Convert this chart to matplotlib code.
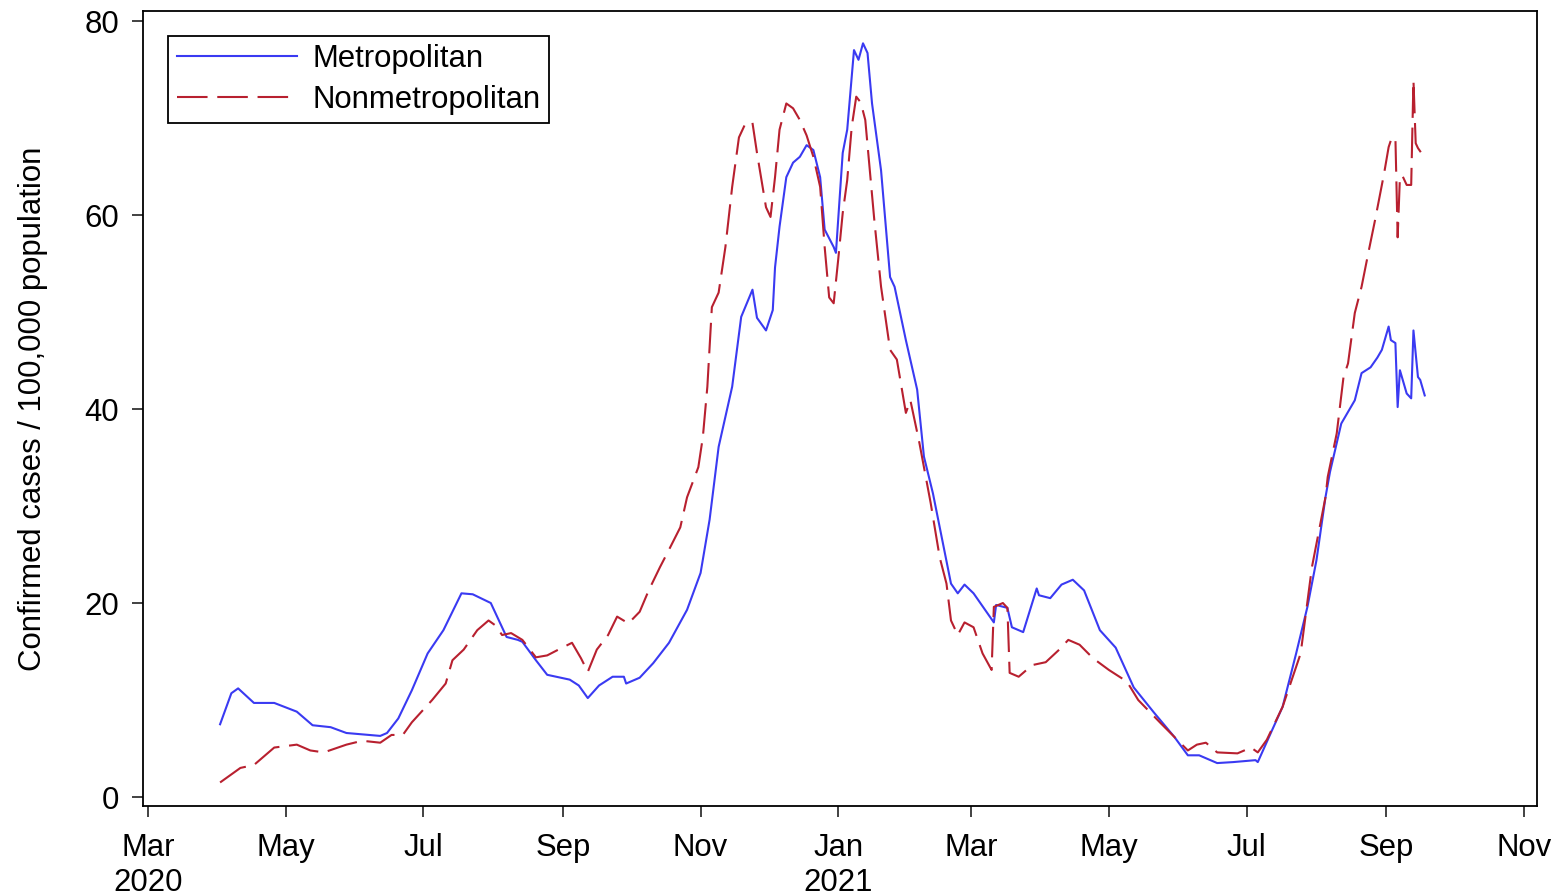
import pandas as pd
import matplotlib
matplotlib.use('Agg')
import matplotlib.pyplot as plt

# Confirmed cases / 100,000 population (7-day values)
metro_dates = ['2020-04-02', '2020-04-07', '2020-04-10', '2020-04-17', '2020-04-26', '2020-05-06',
               '2020-05-13', '2020-05-21', '2020-05-28', '2020-06-12', '2020-06-15', '2020-06-20',
               '2020-06-26', '2020-07-03', '2020-07-10', '2020-07-18', '2020-07-23', '2020-07-31',
               '2020-08-03', '2020-08-07', '2020-08-12', '2020-08-14', '2020-08-20', '2020-08-25',
               '2020-09-04', '2020-09-08', '2020-09-12', '2020-09-17', '2020-09-23', '2020-09-28',
               '2020-09-29', '2020-10-05', '2020-10-11', '2020-10-18', '2020-10-26', '2020-11-01',
               '2020-11-05', '2020-11-09', '2020-11-15', '2020-11-19', '2020-11-24', '2020-11-26',
               '2020-11-30', '2020-12-03', '2020-12-04', '2020-12-06', '2020-12-09', '2020-12-12',
               '2020-12-15', '2020-12-18', '2020-12-21', '2020-12-24', '2020-12-26', '2020-12-30',
               '2020-12-31', '2021-01-03', '2021-01-05', '2021-01-08', '2021-01-10', '2021-01-12',
               '2021-01-14', '2021-01-16', '2021-01-20', '2021-01-24', '2021-01-26', '2021-01-31',
               '2021-02-05', '2021-02-08', '2021-02-12', '2021-02-20', '2021-02-23', '2021-02-26',
               '2021-03-02', '2021-03-11', '2021-03-12', '2021-03-17', '2021-03-19', '2021-03-24',
               '2021-03-30', '2021-03-31', '2021-04-05', '2021-04-10', '2021-04-15', '2021-04-20',
               '2021-04-27', '2021-05-04', '2021-05-12', '2021-05-21', '2021-05-30', '2021-06-05',
               '2021-06-10', '2021-06-18', '2021-06-25', '2021-07-05', '2021-07-06', '2021-07-11',
               '2021-07-17', '2021-07-23', '2021-07-28', '2021-08-01', '2021-08-05', '2021-08-07',
               '2021-08-12', '2021-08-18', '2021-08-21', '2021-08-25', '2021-08-28', '2021-08-30',
               '2021-09-02', '2021-09-03', '2021-09-05', '2021-09-06', '2021-09-07', '2021-09-10',
               '2021-09-12', '2021-09-13', '2021-09-15', '2021-09-16', '2021-09-18']
metro_values = [7.5, 10.7, 11.2, 9.7, 9.7, 8.8,
                7.4, 7.2, 6.6, 6.3, 6.6, 8.1,
                11.0, 14.8, 17.2, 21.0, 20.9, 20.0,
                18.5, 16.5, 16.2, 16.0, 14.1, 12.6,
                12.1, 11.5, 10.2, 11.5, 12.4, 12.4,
                11.7, 12.3, 13.8, 15.9, 19.3, 23.1,
                28.6, 36.1, 42.3, 49.5, 52.3, 49.4,
                48.1, 50.2, 54.6, 58.8, 63.9, 65.4,
                66.0, 67.2, 66.7, 63.9, 58.5, 56.7,
                56.1, 66.4, 68.8, 77.0, 76.0, 77.7,
                76.7, 71.5, 64.6, 53.6, 52.6, 47.1,
                42.0, 35.1, 31.3, 22.0, 21.0, 21.9,
                21.0, 18.0, 19.8, 19.5, 17.5, 17.0,
                21.5, 20.8, 20.5, 21.9, 22.4, 21.3,
                17.2, 15.4, 11.3, 8.7, 6.2, 4.3,
                4.3, 3.5, 3.6, 3.8, 3.6, 6.2,
                9.3, 14.8, 19.6, 24.4, 30.9, 33.5,
                38.5, 40.9, 43.7, 44.3, 45.3, 46.1,
                48.5, 47.1, 46.8, 40.2, 44.0, 41.6,
                41.1, 48.1, 43.3, 43.0, 41.4]

nonmetro_dates = ['2020-04-02', '2020-04-11', '2020-04-17', '2020-04-26', '2020-05-06', '2020-05-12',
                  '2020-05-18', '2020-05-28', '2020-06-04', '2020-06-12', '2020-06-17', '2020-06-22',
                  '2020-06-26', '2020-07-05', '2020-07-11', '2020-07-14', '2020-07-19', '2020-07-25',
                  '2020-07-30', '2020-08-02', '2020-08-05', '2020-08-09', '2020-08-14', '2020-08-20',
                  '2020-08-25', '2020-08-30', '2020-09-05', '2020-09-09', '2020-09-12', '2020-09-16',
                  '2020-09-21', '2020-09-25', '2020-09-30', '2020-10-05', '2020-10-09', '2020-10-14',
                  '2020-10-18', '2020-10-23', '2020-10-26', '2020-10-31', '2020-11-02', '2020-11-04',
                  '2020-11-06', '2020-11-09', '2020-11-12', '2020-11-15', '2020-11-18', '2020-11-21',
                  '2020-11-24', '2020-11-26', '2020-11-30', '2020-12-02', '2020-12-04', '2020-12-06',
                  '2020-12-09', '2020-12-12', '2020-12-15', '2020-12-18', '2020-12-21', '2020-12-24',
                  '2020-12-26', '2020-12-28', '2020-12-30', '2021-01-01', '2021-01-03', '2021-01-05',
                  '2021-01-07', '2021-01-09', '2021-01-11', '2021-01-13', '2021-01-15', '2021-01-17',
                  '2021-01-20', '2021-01-24', '2021-01-27', '2021-01-31', '2021-02-02', '2021-02-06',
                  '2021-02-11', '2021-02-15', '2021-02-18', '2021-02-20', '2021-02-23', '2021-02-26',
                  '2021-03-02', '2021-03-06', '2021-03-10', '2021-03-11', '2021-03-15', '2021-03-17',
                  '2021-03-18', '2021-03-22', '2021-03-28', '2021-04-03', '2021-04-09', '2021-04-13',
                  '2021-04-18', '2021-04-24', '2021-05-01', '2021-05-09', '2021-05-14', '2021-05-24',
                  '2021-05-30', '2021-06-05', '2021-06-09', '2021-06-13', '2021-06-18', '2021-06-27',
                  '2021-07-03', '2021-07-06', '2021-07-10', '2021-07-17', '2021-07-25', '2021-07-30',
                  '2021-08-05', '2021-08-06', '2021-08-10', '2021-08-13', '2021-08-15', '2021-08-18',
                  '2021-08-21', '2021-08-24', '2021-08-27', '2021-08-29', '2021-08-31', '2021-09-02',
                  '2021-09-03', '2021-09-05', '2021-09-06', '2021-09-07', '2021-09-08', '2021-09-10',
                  '2021-09-12', '2021-09-13', '2021-09-14', '2021-09-15', '2021-09-18']
nonmetro_values = [1.5, 3.0, 3.3, 5.1, 5.4, 4.8,
                   4.6, 5.4, 5.8, 5.6, 6.4, 6.4,
                   7.7, 10.0, 11.7, 14.1, 15.2, 17.2,
                   18.2, 17.7, 16.7, 16.9, 16.2, 14.4,
                   14.6, 15.2, 15.9, 14.3, 12.9, 15.2,
                   16.7, 18.6, 17.9, 19.1, 21.3, 23.7,
                   25.5, 27.8, 30.9, 34.0, 37.1, 42.3,
                   50.5, 52.0, 56.7, 62.9, 68.0, 69.5,
                   69.5, 66.4, 60.8, 59.8, 63.9, 68.8,
                   71.5, 71.0, 69.8, 68.2, 66.0, 62.9,
                   56.7, 51.5, 50.9, 55.4, 60.2, 63.6,
                   69.1, 72.2, 71.6, 69.8, 64.6, 59.5,
                   52.6, 46.1, 45.1, 39.6, 40.9, 36.5,
                   30.3, 24.7, 22.0, 18.2, 16.7, 18.0,
                   17.5, 14.8, 13.1, 19.6, 20.0, 19.5,
                   12.8, 12.4, 13.6, 13.9, 15.2, 16.2,
                   15.7, 14.3, 13.1, 11.9, 10.0, 7.6,
                   6.2, 4.8, 5.4, 5.6, 4.6, 4.5,
                   5.1, 4.6, 5.9, 9.3, 14.8, 23.7,
                   30.9, 33.0, 37.5, 43.3, 44.7, 49.9,
                   52.6, 56.1, 59.5, 61.9, 64.3, 67.0,
                   67.7, 68.0, 57.7, 63.9, 64.1, 63.1,
                   63.1, 73.9, 67.4, 66.9, 65.9]

tick_dates = ['2020-03-01', '2020-05-01', '2020-07-01', '2020-09-01', '2020-11-01', '2021-01-01',
              '2021-03-01', '2021-05-01', '2021-07-01', '2021-09-01', '2021-11-01']
tick_labels = ['Mar\n2020', 'May', 'Jul', 'Sep', 'Nov', 'Jan\n2021', 'Mar', 'May', 'Jul', 'Sep', 'Nov']

plt.rcParams['font.family'] = ['Liberation Sans', 'DejaVu Sans']
plt.rcParams['lines.scale_dashes'] = False

fig = plt.figure(figsize=(15.57, 8.96), dpi=100)
ax = fig.add_axes([0.0918, 0.1004, 0.8954, 0.8873])

ax.plot(pd.to_datetime(metro_dates), metro_values, color='#3a3af2', lw=1.5, label='Metropolitan')
ax.plot(pd.to_datetime(nonmetro_dates), nonmetro_values, color='#b8202f', lw=1.5,
        dashes=(22, 7), label='Nonmetropolitan')

start = pd.Timestamp('2020-03-01')
ax.set_xlim(start - pd.Timedelta(days=2.2), start + pd.Timedelta(days=615.8))
ax.set_ylim(-0.93, 81.03)

ax.set_xticks(pd.to_datetime(tick_dates))
ax.set_xticklabels(tick_labels)
ax.set_yticks([0, 20, 40, 60, 80])
ax.tick_params(axis='both', labelsize=22.4, length=8, width=1.3, color='#333333')
ax.tick_params(axis='x', pad=11.5)
ax.tick_params(axis='y', pad=9)
for s in ax.spines.values():
    s.set_linewidth(1.3)

ax.set_ylabel('Confirmed cases / 100,000 population', fontsize=22.4, labelpad=26)

leg = ax.legend(loc='upper left', bbox_to_anchor=(0.018, 0.969), borderaxespad=0,
                fontsize=22.4, handlelength=3.85, handletextpad=0.5, borderpad=0.28,
                labelspacing=0.33, fancybox=False, framealpha=1, edgecolor='black')
leg.get_frame().set_linewidth(1.3)

plt.savefig('out.png', dpi=100)
